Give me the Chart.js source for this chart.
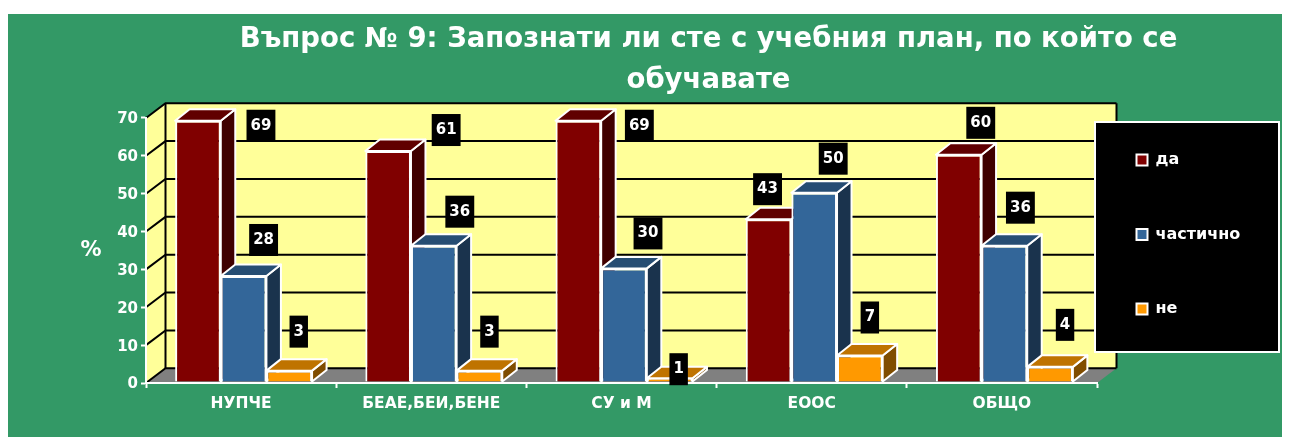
<!DOCTYPE html>
<html><head><meta charset="utf-8">
<style>html,body{margin:0;padding:0;background:#fff}canvas{display:block}</style>
<script src="https://cdn.jsdelivr.net/npm/chart.js@4"></script>
</head><body>
<canvas id="c" width="1289" height="437"></canvas>
<script>
const categories = ['НУПЧЕ','БЕАЕ,БЕИ,БЕНЕ','СУ и М','ЕООС','ОБЩО'];
const da = [69,61,69,43,60];
const chastichno = [28,36,30,50,36];
const ne = [3,3,1,7,4];
const titleLines = ['Въпрос № 9: Запознати ли сте с учебния план, по който се','обучавате'];
const yTicks = [0,10,20,30,40,50,60,70];

const FONT = '"DejaVu Sans"';
const colors = ['#800000','#336699','#FF9900'];
const topCol = ['#600000','#264D73','#BF7300'];
const sideCol = ['#400000','#1A334D','#804D00'];
const labelDX = [[63,58,61,-1,22],[20,26,24,19,16],[9.5,10,9,10,15]];
const labelDY = [[4,-22,4,-31,-33],[-37,-35,-36,-35,-39],[-40,-40,-10,-39,-43]];
const DEPTH_X=19.5, DEPTH_Y=14.7, BAR_DX=14.5, BAR_DY=11.5, SHIFT_X=2.5, SHIFT_Y=-1;

const scene = {
  id:'scene',
  beforeDraw(chart){
    const {ctx,scales:{x,y}}=chart;
    const L=x.left,R=x.right,B=y.getPixelForValue(0),T=y.getPixelForValue(70);
    ctx.save();
    ctx.fillStyle='#339966'; ctx.fillRect(8,14,1274,423);
    // floor
    ctx.fillStyle='#808080';
    ctx.beginPath();ctx.moveTo(L,B);ctx.lineTo(L+DEPTH_X,B-DEPTH_Y);ctx.lineTo(R+DEPTH_X,B-DEPTH_Y);ctx.lineTo(R,B);ctx.closePath();ctx.fill();
    // walls
    ctx.fillStyle='#FFFF99';
    ctx.beginPath();ctx.moveTo(L,B);ctx.lineTo(L+DEPTH_X,B-DEPTH_Y);ctx.lineTo(L+DEPTH_X,T-DEPTH_Y);ctx.lineTo(L,T);ctx.closePath();ctx.fill();
    ctx.fillRect(L+DEPTH_X,T-DEPTH_Y,R-L,B-T);
    ctx.strokeStyle='#000';ctx.lineWidth=2;
    yTicks.forEach(v=>{
      const p=y.getPixelForValue(v);
      ctx.beginPath();ctx.moveTo(L,p);ctx.lineTo(L+DEPTH_X,p-DEPTH_Y);ctx.lineTo(R+DEPTH_X,p-DEPTH_Y);ctx.stroke();
    });
    ctx.beginPath();ctx.moveTo(L+DEPTH_X,T-DEPTH_Y);ctx.lineTo(L+DEPTH_X,B-DEPTH_Y);ctx.stroke();
    ctx.beginPath();ctx.moveTo(R+DEPTH_X,T-DEPTH_Y);ctx.lineTo(R+DEPTH_X,B-DEPTH_Y);ctx.stroke();
    // legend panel
    ctx.fillStyle='#000';ctx.fillRect(1095,122,184,230);
    ctx.strokeStyle='#fff';ctx.lineWidth=2;ctx.strokeRect(1095,122,184,230);
    // % axis caption
    ctx.fillStyle='#fff';ctx.font='bold 21px '+FONT;ctx.textAlign='center';ctx.textBaseline='middle';
    ctx.fillText('%',91,251);
    ctx.restore();
  },
  afterLayout(chart){
    const t=chart.titleBlock; t.left=135; t.right=1282;
    const l=chart.legend; l.left=1078; l.right=1279; l.top=93.5; l.bottom=437; l.adjustHitBoxes();
  },
  beforeDatasetsDraw(chart){
    const {ctx}=chart;
    ctx.save();
    ctx.translate(SHIFT_X,SHIFT_Y);
    ctx.strokeStyle='#fff';ctx.lineWidth=2;ctx.lineJoin='round';
    categories.forEach((_,j)=>{
      [0,1,2].forEach(i=>{
        const b=chart.getDatasetMeta(i).data[j];
        const l=b.x-b.width/2,r=b.x+b.width/2,t=b.y,bo=b.base;
        ctx.fillStyle=sideCol[i];
        ctx.beginPath();ctx.moveTo(r,t);ctx.lineTo(r+BAR_DX,t-BAR_DY);ctx.lineTo(r+BAR_DX,bo-BAR_DY);ctx.lineTo(r,bo);ctx.closePath();ctx.fill();ctx.stroke();
        ctx.fillStyle=topCol[i];
        ctx.beginPath();ctx.moveTo(l,t);ctx.lineTo(l+BAR_DX,t-BAR_DY);ctx.lineTo(r+BAR_DX,t-BAR_DY);ctx.lineTo(r,t);ctx.closePath();ctx.fill();ctx.stroke();
      });
    });
  },
  afterDatasetsDraw(chart){
    const {ctx}=chart;
    ctx.restore();
    ctx.save();
    ctx.font='bold 15px '+FONT;ctx.textAlign='center';ctx.textBaseline='middle';
    chart.data.datasets.forEach((ds,i)=>{
      chart.getDatasetMeta(i).data.forEach((b,j)=>{
        const txt=String(ds.data[j]);
        const cx=b.x+SHIFT_X+labelDX[i][j], cy=b.y+labelDY[i][j];
        const w=ctx.measureText(txt).width+8;
        ctx.fillStyle='#000';ctx.fillRect(cx-w/2,cy-16,w,32);
        ctx.fillStyle='#fff';ctx.fillText(txt,cx,cy);
      });
    });
    ctx.restore();
  }
};

const dataset=(label,data,i)=>({label,data,backgroundColor:colors[i],borderColor:'#fff',borderWidth:2,categoryPercentage:0.72,barPercentage:1});

new Chart(document.getElementById('c'),{
  type:'bar',
  data:{labels:categories,datasets:[dataset('да',da,0),dataset('частично',chastichno,1),dataset('не',ne,2)]},
  plugins:[scene],
  options:{
    responsive:false,animation:false,
    layout:{padding:{left:0,right:192,top:19,bottom:0}},
    scales:{
      x:{
        afterFit(s){s.height=54;},
        border:{color:'#fff',width:2},
        grid:{drawOnChartArea:false,drawTicks:true,color:'#fff',tickLength:5,tickWidth:2},
        ticks:{color:'#fff',font:{family:FONT,size:15.5,weight:'bold'},padding:7,maxRotation:0,autoSkip:false}
      },
      y:{
        min:0,max:70,
        afterFit(s){s.width=146;},
        afterBuildTicks(s){s.ticks=yTicks.map(v=>({value:v}));},
        border:{color:'#fff',width:2},
        grid:{drawOnChartArea:false,drawTicks:true,color:'#fff',tickLength:5,tickWidth:2},
        ticks:{color:'#fff',font:{family:FONT,size:15,weight:'bold'},padding:3,labelOffset:1.5}
      }
    },
    plugins:{
      tooltip:{enabled:false},
      title:{display:true,text:titleLines,color:'#fff',font:{family:FONT,size:27.5,weight:'bold',lineHeight:1.49},padding:{top:0,bottom:17}},
      legend:{display:true,position:'chartArea',align:'start',
        labels:{color:'#fff',font:{family:FONT,size:16,weight:'bold'},boxWidth:11,boxHeight:11,padding:58.5,
          generateLabels(chart){return chart.data.datasets.map((d,i)=>({text:d.label,fillStyle:colors[i],strokeStyle:'#fff',lineWidth:2,fontColor:'#fff',datasetIndex:i}));}
        }
      }
    }
  }
});
</script>
</body></html>
